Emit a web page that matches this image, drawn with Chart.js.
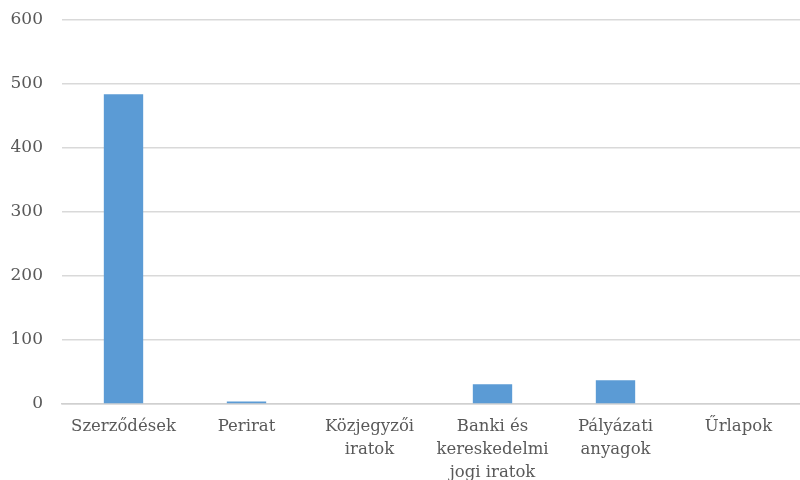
<!DOCTYPE html>
<html>
<head>
<meta charset="utf-8">
<script src="https://cdn.jsdelivr.net/npm/chart.js@4"></script>
<style>
  html, body { margin: 0; padding: 0; background: #fff; overflow: hidden; }
  #wrap { width: 800px; height: 480px; }
</style>
</head>
<body>
<div id="wrap"><canvas id="grafikon"></canvas></div>
<script>
// Dokumentumtípusok és darabszámok
const kategoriak = [
    'Szerződések',
    'Perirat',
    ['Közjegyzői', 'iratok'],
    ['Banki és', 'kereskedelmi', 'jogi iratok'],
    ['Pályázati', 'anyagok'],
    'Űrlapok'
];
const darabszam = [484, 4, 0, 31, 37, 0];
const yMin = 0;
const yMax = 600;
const yLepes = 100;

const betu = "'DejaVu Serif', serif";
Chart.defaults.color = '#595959';
Chart.defaults.font.family = betu;
Chart.defaults.font.size = 17;

const ctx = document.getElementById('grafikon').getContext('2d');
new Chart(ctx, {
    type: 'bar',
    data: {
        labels: kategoriak,
        datasets: [{
            data: darabszam,
            backgroundColor: '#5B9BD5',
            borderWidth: 0,
            categoryPercentage: 1,
            barPercentage: 0.32
        }]
    },
    options: {
        responsive: true,
        maintainAspectRatio: false,
        animation: false,
        layout: { padding: { top: 20, right: 0, left: 0, bottom: 0 } },
        plugins: {
            legend: { display: false },
            tooltip: { enabled: false }
        },
        scales: {
            y: {
                min: yMin,
                max: yMax,
                ticks: { stepSize: yLepes, padding: 19 },
                grid: { color: '#d9d9d9', lineWidth: 1.5, drawTicks: false },
                border: { display: false },
                afterFit: (scale) => {
                    scale.width = 62;
                    scale.paddingTop = 0;
                    scale.paddingBottom = 0;
                }
            },
            x: {
                ticks: {
                    padding: 11,
                    maxRotation: 0,
                    autoSkip: false,
                    font: { size: 16.5, lineHeight: 1.4 }
                },
                grid: { display: false, drawTicks: false },
                border: { color: '#d0d0d0', width: 1.5 },
                afterFit: (scale) => { scale.height = 76; }
            }
        }
    }
});
</script>
</body>
</html>
